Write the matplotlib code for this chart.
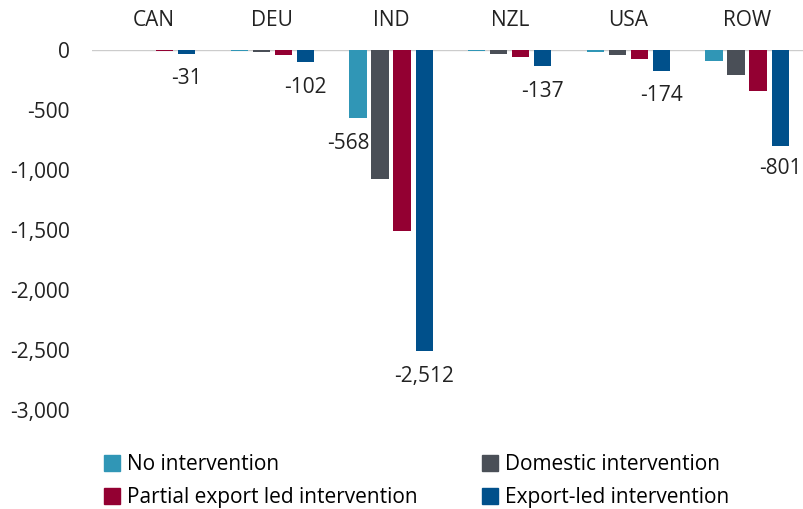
import numpy as np
import matplotlib.pyplot as plt
from matplotlib.patches import Patch
from matplotlib.ticker import FuncFormatter

plt.rcParams['font.family'] = ['Open Sans', 'DejaVu Sans']

regions = ["CAN", "DEU", "IND", "NZL", "USA", "ROW"]
series = ["No intervention", "Domestic intervention",
          "Partial export led intervention", "Export-led intervention"]
no_interv = [-1, -10, -568, -10, -15, -89]
domestic = [-2, -18, -1075, -36, -44, -208]
partial = [-8, -42, -1506, -58, -75, -339]
export_led = [-31, -102, -2512, -137, -174, -801]
colors = ["#3096b6", "#4a4f57", "#930032", "#00508b"]

fs = 15
fig = plt.figure(figsize=(8.04, 5.09), dpi=100)
ax = fig.add_axes([92 / 804, 1 - 410 / 509, 712 / 804, 360 / 509])

x = np.arange(len(regions))
step = 0.186
width = 0.145
all_vals = [no_interv, domestic, partial, export_led]
for i, vals in enumerate(all_vals):
    ax.bar(x + (i - 1.5) * step + 0.02, vals, width, color=colors[i], label=series[i])

# value labels (shown on export-led bars, plus the IND no-intervention bar)
for j, v in enumerate(export_led):
    dy = -22 if regions[j] == "ROW" else -25
    ax.annotate(f"{v:,}", (x[j] + 1.5 * step + 0.02, v), xytext=(0, dy),
                textcoords="offset pixels", ha="center", va="center",
                fontsize=fs, color="#222222")
ax.annotate(f"{no_interv[2]:,}", (x[2] - 1.5 * step + 0.02, no_interv[2]), xytext=(-10, -25),
            textcoords="offset pixels", ha="center", va="center",
            fontsize=fs, color="#222222")

ax.set_xlim(-0.5, len(regions) - 0.5)
ax.set_ylim(-3000, 0)
ax.set_yticks(np.arange(-3000, 1, 500))
ax.yaxis.set_major_formatter(FuncFormatter(lambda v, p: f"{int(v):,}"))
ax.tick_params(axis="y", length=0, pad=16, labelsize=fs, labelcolor="#222222")
ax.set_xticks([])
for s in ax.spines.values():
    s.set_visible(False)
ax.axhline(0, color="#cccccc", lw=1, zorder=0)

# region names above the zero line
for j, r in enumerate(regions):
    ax.text(x[j] + 0.02, 1 + 30 / 360, r, transform=ax.get_xaxis_transform(),
            ha="center", va="center", fontsize=fs, color="#222222")

order = [0, 2, 1, 3]
handles = [Patch(color=colors[i]) for i in order]
labels = [series[i] for i in order]
fig.legend(handles, labels, ncol=2, loc="upper left",
           bbox_to_anchor=(98 / 804, 1 - 448 / 509), frameon=False,
           fontsize=fs, handlelength=0.75, handleheight=0.75,
           handletextpad=0.35, columnspacing=3.1, labelspacing=0.58,
           borderaxespad=0, borderpad=0.3)

fig.savefig("out.png", dpi=100)
